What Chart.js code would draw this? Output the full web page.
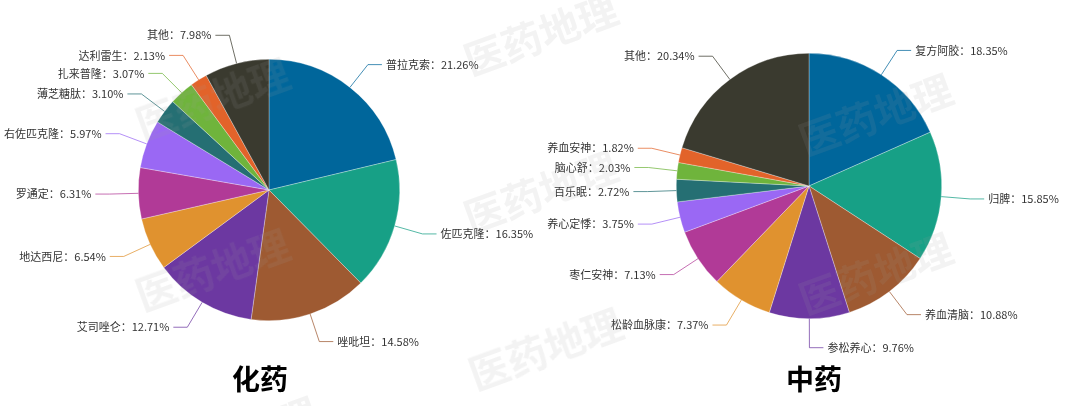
<!DOCTYPE html>
<html>
<head>
<meta charset="utf-8">
<script src="https://cdn.jsdelivr.net/npm/chart.js@4.4.1/dist/chart.umd.min.js"></script>
<style>
  html, body { margin: 0; padding: 0; background: #fff; }
  #wrap { position: relative; width: 1080px; height: 406px; overflow: hidden; font-family: "Noto Sans CJK SC", sans-serif; }
  .box { position: absolute; top: 0; width: 540px; height: 406px; }
  .title { position: absolute; top: 360px; width: 120px; text-align: center; font-size: 28px; font-weight: bold; color: #000; line-height: 36px; }
  .wm { position: absolute; font-size: 40px; font-weight: bold; color: rgba(160,160,160,0.12); white-space: nowrap; transform: translate(-50%, -50%) rotate(-20deg); pointer-events: none; }
</style>
</head>
<body>
<div id="wrap">
  <div class="box" style="left:0"><canvas id="left-chart" width="540" height="406"></canvas></div>
  <div class="box" style="left:540px"><canvas id="right-chart" width="540" height="406"></canvas></div>
  <div class="title" style="left:200px">化药</div>
  <div class="title" style="left:754px">中药</div>
  <div class="wm" style="left:212px;top:97px">医药地理</div>
  <div class="wm" style="left:212px;top:268px">医药地理</div>
  <div class="wm" style="left:240px;top:436px">医药地理</div>
  <div class="wm" style="left:540px;top:33px">医药地理</div>
  <div class="wm" style="left:540px;top:190px">医药地理</div>
  <div class="wm" style="left:545px;top:347px">医药地理</div>
  <div class="wm" style="left:875px;top:113px">医药地理</div>
  <div class="wm" style="left:875px;top:272px">医药地理</div>
</div>
<script>
// 化药
const chemNames = ['普拉克索', '佐匹克隆', '唑吡坦', '艾司唑仑', '地达西尼', '罗通定', '右佐匹克隆', '薄芝糖肽', '扎来普隆', '达利雷生', '其他'];
const chemShare = [21.26, 16.35, 14.58, 12.71, 6.54, 6.31, 5.97, 3.10, 3.07, 2.13, 7.98];

// 中药
const tcmNames = ['复方阿胶', '归脾', '养血清脑', '参松养心', '松龄血脉康', '枣仁安神', '养心定悸', '百乐眠', '脑心舒', '养血安神', '其他'];
const tcmShare = [18.35, 15.85, 10.88, 9.76, 7.37, 7.13, 3.75, 2.72, 2.03, 1.82, 20.34];

const sliceColors = ['#00669b', '#17a086', '#9e5a32', '#6c38a1', '#e0922f', '#b13a97', '#9a68f4', '#256f73', '#6fb43c', '#e2632a', '#3a3a2f'];

const LEN1 = 29, LEN2 = 14, GAP = 4, MIN_STEP = 18;

// leader lines + labels, echarts style
const pieLabels = {
    id: 'pieLabels',
    afterDatasetsDraw(chart) {
        const ctx = chart.ctx;
        const meta = chart.getDatasetMeta(0);
        const names = chart.data.labels;
        const vals = chart.data.datasets[0].data;

        const items = meta.data.map((arc, i) => {
            const p = arc.getProps(['x', 'y', 'startAngle', 'endAngle', 'outerRadius'], true);
            const mid = (p.startAngle + p.endAngle) / 2;
            const c = Math.cos(mid), s = Math.sin(mid);
            return {
                i: i,
                side: c >= -0.001 ? 1 : -1,
                ex: p.x + c * p.outerRadius,
                ey: p.y + s * p.outerRadius,
                kx: p.x + c * (p.outerRadius + LEN1),
                ky: p.y + s * (p.outerRadius + LEN1)
            };
        });

        // keep labels from overlapping on each side
        [1, -1].forEach(side => {
            const list = items.filter(o => o.side === side).sort((a, b) => a.ky - b.ky);
            for (let k = 1; k < list.length; k++) {
                if (list[k].ky - list[k - 1].ky < MIN_STEP) list[k].ky = list[k - 1].ky + MIN_STEP;
            }
        });

        ctx.save();
        ctx.font = '11px "Noto Sans CJK SC", sans-serif';
        ctx.textBaseline = 'middle';
        items.forEach(o => {
            const endX = o.kx + o.side * LEN2;
            ctx.strokeStyle = sliceColors[o.i] + 'bb';
            ctx.lineWidth = 1;
            ctx.beginPath();
            ctx.moveTo(o.ex, o.ey);
            ctx.lineTo(o.kx, o.ky);
            ctx.lineTo(endX, o.ky);
            ctx.stroke();

            ctx.fillStyle = '#333';
            ctx.textAlign = o.side > 0 ? 'left' : 'right';
            ctx.fillText(names[o.i] + '：' + vals[o.i].toFixed(2) + '%', endX + o.side * GAP, o.ky);
        });
        ctx.restore();
    }
};

function makePie(id, names, values, padding) {
    new Chart(document.getElementById(id).getContext('2d'), {
        type: 'pie',
        data: {
            labels: names,
            datasets: [{
                data: values,
                backgroundColor: sliceColors,
                borderColor: 'rgba(255,255,255,0.5)',
                borderWidth: 0.6
            }]
        },
        options: {
            responsive: false,
            animation: false,
            layout: { padding: padding },
            plugins: {
                legend: { display: false },
                tooltip: { enabled: false }
            }
        },
        plugins: [pieLabels]
    });
}

makePie('left-chart', chemNames, chemShare, { left: 138, right: 140, top: 59, bottom: 85 });
makePie('right-chart', tcmNames, tcmShare, { left: 136, right: 138, top: 53, bottom: 87 });
</script>
</body>
</html>
